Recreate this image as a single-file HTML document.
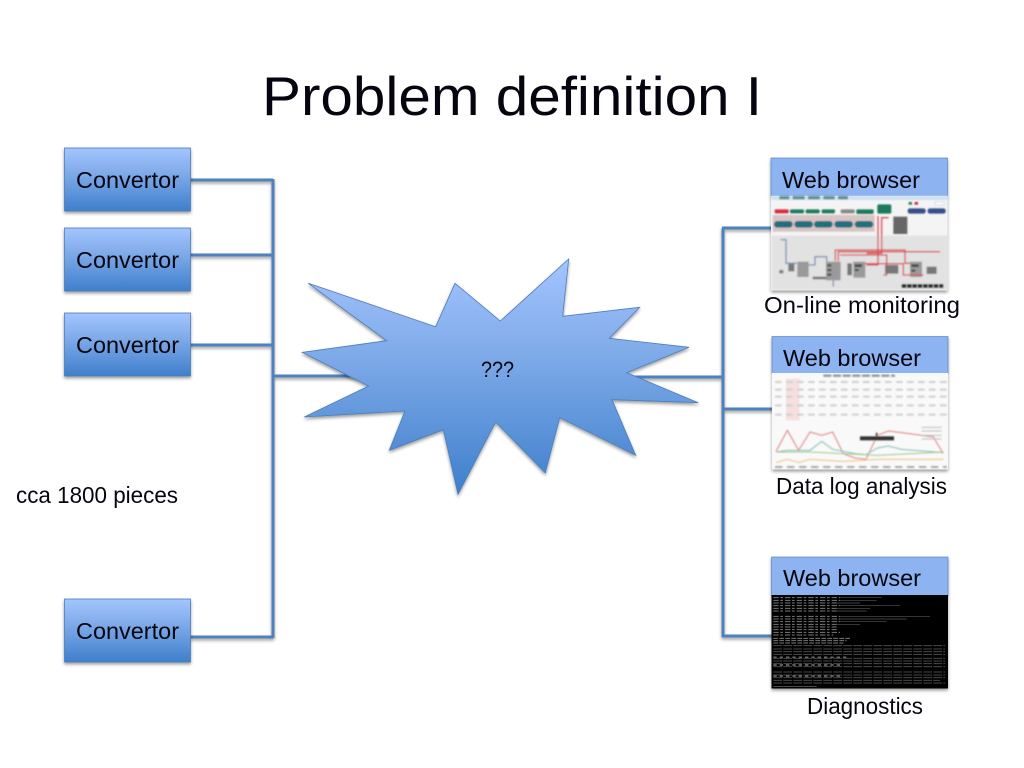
<!DOCTYPE html>
<html><head><meta charset="utf-8"><title>Problem definition I</title>
<style>html,body{margin:0;padding:0;background:#fff;width:1024px;height:768px;overflow:hidden}svg{display:block}text{font-family:"Liberation Sans",sans-serif;fill:#050510}</style></head>
<body>
<svg width="1024" height="768" viewBox="0 0 1024 768" xmlns="http://www.w3.org/2000/svg">
<defs>
<linearGradient id="g" x1="0" y1="0" x2="0" y2="1"><stop offset="0" stop-color="#a3c4ff"/><stop offset=".35" stop-color="#84aeeb"/><stop offset="1" stop-color="#3f7fcc"/></linearGradient>
<filter id="s" x="-10%" y="-10%" width="120%" height="125%"><feGaussianBlur in="SourceAlpha" stdDeviation="1.6"/><feOffset dy="2"/><feComponentTransfer><feFuncA type="linear" slope=".4"/></feComponentTransfer><feMerge><feMergeNode/><feMergeNode in="SourceGraphic"/></feMerge></filter>
<filter id="b"><feGaussianBlur stdDeviation="2"/></filter>
<filter id="b2"><feGaussianBlur stdDeviation="1"/></filter>
</defs>

<text x="262" y="115" font-size="55" textLength="500" lengthAdjust="spacingAndGlyphs">Problem definition I</text>

<g fill="none" stroke="#4f81bd" stroke-width="3" filter="url(#s)">
<path d="M190 180H273M190 255H273M190 345H273M190 637H273M273 179V638M273 376H365"/>
<path d="M630 377H723M723 228V637M722 228H775M723 409H775M722 636H775"/>
</g>

<g stroke="#4a7ebb" stroke-width=".8" fill="url(#g)" filter="url(#s)">
<rect x="64.500" y="148" width="126" height="63"/>
<rect x="64.500" y="228" width="126" height="63"/>
<rect x="64.500" y="313" width="126" height="63"/>
<rect x="64.500" y="599" width="126" height="63"/>
<path d="M308.300 283.300L435.700 326.700L455 283.300L500.300 321L568.700 259L562.700 316.300L639.700 307.300L609.300 338.300L689 347.300L626.700 372.700L698.300 402.700L612 399.700L635.700 455.300L559.700 417.700L545.300 473L495.700 422L458 494.300L443.300 429.700L389.300 450.300L405 411L304.300 417L368.700 386L302.300 352.300L386.700 340.700Z"/>
</g>

<g font-size="23">
<text x="76" y="188" textLength="103" lengthAdjust="spacingAndGlyphs">Convertor</text>
<text x="76" y="268" textLength="103" lengthAdjust="spacingAndGlyphs">Convertor</text>
<text x="76" y="353" textLength="103" lengthAdjust="spacingAndGlyphs">Convertor</text>
<text x="76" y="639" textLength="103" lengthAdjust="spacingAndGlyphs">Convertor</text>
<text x="16" y="503" textLength="162" lengthAdjust="spacingAndGlyphs">cca 1800 pieces</text>
</g>
<text x="481" y="377" font-size="22" textLength="33" lengthAdjust="spacingAndGlyphs">???</text>

<!-- Browser 1 -->
<g filter="url(#s)">
<rect x="771" y="158" width="176.500" height="40" fill="#8db3f0" stroke="#4a7ebb" stroke-width=".6"/>
<rect x="771" y="196" width="176.500" height="94.500" fill="#f4f4f4"/>
</g>
<g transform="translate(770 195) scale(.33333)" filter="url(#b)">
<rect x="3" y="3" width="534" height="12" fill="#cfe0f2"/>
<g fill="#5f9090"><rect x="28" y="3" width="30" height="10"/><rect x="68" y="3" width="36" height="10"/><rect x="114" y="3" width="36" height="10"/><rect x="160" y="3" width="34" height="10"/><rect x="204" y="3" width="30" height="10"/></g>
<rect x="5" y="122" width="530" height="162" fill="#e2e2e2"/>
<rect x="8" y="60" width="306" height="50" fill="#d7c4c4"/>
<rect x="14" y="43" width="42" height="12" rx="4" fill="#d8293a"/>
<g fill="#1c7a5c"><rect x="60" y="43" width="42" height="12" rx="4"/><rect x="107" y="43" width="42" height="12" rx="4"/><rect x="155" y="43" width="40" height="12" rx="4"/><rect x="259" y="43" width="52" height="14" rx="4"/><rect x="322" y="28" width="42" height="28" rx="5"/></g>
<rect x="212" y="43" width="42" height="12" rx="4" fill="#888"/>
<g fill="#1c7080" stroke="#134" stroke-width="1"><rect x="13" y="79" width="54" height="18" rx="8"/><rect x="74" y="79" width="54" height="18" rx="8"/><rect x="133" y="79" width="54" height="18" rx="8"/><rect x="194" y="79" width="54" height="18" rx="8"/><rect x="255" y="79" width="54" height="18" rx="8"/></g>
<g fill="#34508c"><rect x="413" y="40" width="54" height="16" rx="7"/><rect x="473" y="40" width="54" height="16" rx="7"/></g>
<rect x="416" y="21" width="10" height="8" fill="#2a7a50"/><rect x="434" y="21" width="10" height="8" fill="#c23"/><rect x="496" y="21" width="26" height="9" fill="#fff" stroke="#8a8"/>
<rect x="370" y="65" width="42" height="52" fill="#666"/>
<g fill="#9a9a9a"><rect x="82" y="200" width="34" height="46"/><rect x="168" y="200" width="44" height="56"/><rect x="250" y="200" width="36" height="48"/><rect x="420" y="200" width="36" height="46"/></g>
<g fill="#444"><rect x="172" y="208" width="12" height="6"/><rect x="172" y="222" width="12" height="6"/><rect x="172" y="236" width="12" height="6"/><rect x="254" y="208" width="22" height="8"/><rect x="254" y="222" width="12" height="6"/><rect x="424" y="208" width="22" height="8"/><rect x="424" y="224" width="12" height="6"/></g>
<g fill="none" stroke-width="4">
<path d="M32 134H48V205H80M116 210H135V185H170V200M190 256V275" stroke="#7b8fb5"/>
<path d="M324 63V210H290M356 68H335V175H290M196 198V165H405V205H420M205 198V170H510M285 206H400V240H460M210 180H350V240H340" stroke="#d9504f"/>
</g>
<g fill="#777"><rect x="28" y="225" width="12" height="10"/><rect x="55" y="207" width="18" height="22"/><rect x="128" y="245" width="40" height="8"/><rect x="232" y="205" width="14" height="36"/><rect x="345" y="210" width="40" height="26"/><rect x="470" y="215" width="30" height="22"/></g>
<path d="M395 273H520" stroke="#222" stroke-width="12" stroke-dasharray="14 2"/>
</g>

<!-- Browser 2 -->
<g filter="url(#s)">
<rect x="772" y="336.500" width="176" height="37" fill="#8db3f0" stroke="#4a7ebb" stroke-width=".6"/>
<rect x="772" y="373" width="176" height="96.500" fill="#f9f9f9"/>
</g>
<g transform="translate(770 372) scale(.33333)" filter="url(#b)">
<path d="M160 11H375" stroke="#8a9a9a" stroke-width="7" stroke-dasharray="24 5"/>
<rect x="48" y="20" width="40" height="125" fill="#f5dfdf"/>
<g stroke="#cfcfcf" stroke-width="6" stroke-dasharray="20 13" fill="none"><path d="M15 30H530M15 53H530M15 74H530M15 100H530M15 128H530"/></g>
<path d="M15 285H530" stroke="#aaa" stroke-width="6" stroke-dasharray="22 14"/>
<g fill="none" stroke-width="3">
<path d="M18 238L52 175L86 235L120 180L155 190L188 180L220 245L255 258L288 262L322 190L355 177L395 182L440 188L490 195L520 245" stroke="#e08080"/>
<path d="M18 240L52 235L120 235L155 208L188 232L255 245L288 248L322 228L355 222L395 232L520 242" stroke="#80c0b0"/>
<path d="M18 240L120 240L220 245L322 250L520 240" stroke="#a0c890"/>
<path d="M18 272L52 262L86 272L120 262L220 268L322 262L520 262" stroke="#eec080"/>
</g>
<g stroke="#bbb" stroke-width="3"><path d="M455 166H515M455 177H515M455 190H515M455 201H515"/></g>
<rect x="270" y="193" width="102" height="12" fill="#333"/>
<path d="M320 182V192" stroke="#444" stroke-width="5"/>
</g>

<!-- Browser 3 -->
<g filter="url(#s)">
<rect x="771.500" y="557" width="176.500" height="39" fill="#8db3f0" stroke="#4a7ebb" stroke-width=".6"/>
<rect x="771.500" y="595" width="176.500" height="93.500" fill="#050505"/>
</g>
<g transform="translate(760 550) scale(.33333)" filter="url(#b2)" fill="none" stroke="#7a7a7a" stroke-width="3">
<path stroke-dasharray="16 5 8 6" d="M40 143H240M40 151H240M40 159H230M40 167H240M40 175H230M40 183H230M40 199H240M40 207H240M40 215H240M40 223H230M40 231H230M40 239H230M40 247H240M40 255H220"/>
<path stroke-width="2" stroke="#555" d="M240 143H365M240 151H350M230 159H300M240 167H420M230 175H330M230 183H320M240 199H510M240 207H440M240 215H380M230 223H300"/>
<path stroke-dasharray="14 4" d="M40 265H270M40 272H260M40 279H250"/>
<path stroke="#4a4a4a" stroke-dasharray="26 4" d="M40 287H555M40 297H555M40 305H555M40 313H555M40 325H555M40 333H555M40 341H555M40 350H555M40 366H555M40 375H555M40 383H555M40 391H540M40 399H555"/>
<path stroke="#666" stroke-width="5" stroke-dasharray="10 9" d="M40 322H260M40 345H240M40 378H240"/>
<path stroke-width="2" d="M40 409H170"/>
</g>

<g font-size="23">
<text x="782" y="188" textLength="138" lengthAdjust="spacingAndGlyphs">Web browser</text>
<text x="783" y="366" textLength="138" lengthAdjust="spacingAndGlyphs">Web browser</text>
<text x="783" y="586" textLength="138" lengthAdjust="spacingAndGlyphs">Web browser</text>
<text x="764" y="313" textLength="196" lengthAdjust="spacingAndGlyphs">On-line monitoring</text>
<text x="776" y="494" textLength="171" lengthAdjust="spacingAndGlyphs">Data log analysis</text>
<text x="807" y="714" textLength="116" lengthAdjust="spacingAndGlyphs">Diagnostics</text>
</g>
</svg>
</body></html>
